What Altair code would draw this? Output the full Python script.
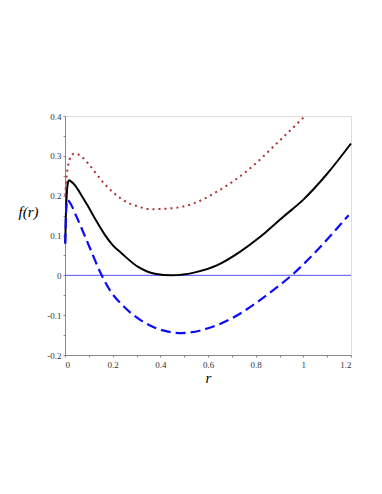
import altair as alt
import pandas as pd

# black solid curve
r_black = [0.001, 0.004, 0.008, 0.012, 0.017, 0.025, 0.042, 0.07, 0.098, 0.13, 0.168, 0.2, 0.238, 0.307, 0.377, 0.448, 0.55, 0.637, 0.734, 0.818, 0.916, 1.0, 1.1, 1.2]
f_black = [0.08, 0.16, 0.21, 0.232, 0.239, 0.236, 0.226, 0.2, 0.172, 0.138, 0.101, 0.076, 0.055, 0.021, 0.004, 0.0, 0.008, 0.025, 0.059, 0.096, 0.147, 0.19, 0.255, 0.331]

# blue dashed curve
r_blue = [0.001, 0.004, 0.007, 0.01, 0.02, 0.05, 0.1, 0.154, 0.189, 0.25, 0.357, 0.49, 0.6, 0.7, 0.8, 0.9, 0.951, 1.05, 1.19]
f_blue = [0.08, 0.15, 0.18, 0.19, 0.183, 0.145, 0.075, 0.0, -0.038, -0.08, -0.126, -0.145, -0.133, -0.108, -0.07, -0.025, 0.0, 0.058, 0.151]

# red dotted curve
r_red = [0.001, 0.006, 0.012, 0.02, 0.03, 0.042, 0.07, 0.098, 0.168, 0.238, 0.3, 0.364, 0.44, 0.538, 0.637, 0.776, 0.888, 1.007]
f_red = [0.2, 0.245, 0.272, 0.292, 0.303, 0.306, 0.298, 0.28, 0.228, 0.191, 0.174, 0.166, 0.168, 0.18, 0.21, 0.268, 0.331, 0.4]

x_ticks = [0, 0.1, 0.2, 0.3, 0.4, 0.5, 0.6, 0.7, 0.8, 0.9, 1.0, 1.1, 1.2]
y_ticks = [-0.2, -0.15, -0.1, -0.05, 0, 0.05, 0.1, 0.15, 0.2, 0.25, 0.3, 0.35, 0.4]

df_black = pd.DataFrame({"r": r_black, "f": f_black})
df_blue = pd.DataFrame({"r": r_blue, "f": f_blue})
df_red = pd.DataFrame({"r": r_red, "f": f_red})

lab_font = "Liberation Serif"

xscale = alt.Scale(domain=[0, 1.2], nice=False, zero=False)
yscale = alt.Scale(domain=[-0.2, 0.4], nice=False, zero=False)

xaxis = alt.Axis(
    values=x_ticks,
    labelExpr="(round(datum.value*10) % 2 == 0) ? toString(round(datum.value*10)/10) : ''",
    labelOverlap=False,
    title="r",
    titleFont=lab_font, titleFontStyle="italic", titleFontWeight="normal", titleFontSize=15,
    titleColor="#000", titleY=22, titleBaseline="middle",
    labelFont=lab_font, labelFontSize=9, labelColor="#333", labelPadding=3,
    tickSize=2, tickColor="#888", domainColor="#888", grid=False,
)
yaxis = alt.Axis(
    values=y_ticks,
    labelExpr="(round(datum.value*20) % 2 == 0) ? toString(round(datum.value*10)/10) : ''",
    labelOverlap=False,
    title="f(r)",
    titleFont=lab_font, titleFontStyle="italic", titleFontWeight="normal", titleFontSize=15,
    titleColor="#000", titleAngle=0, titleX=-37, titleY=95, titleAlign="center", titleBaseline="middle",
    labelFont=lab_font, labelFontSize=9, labelColor="#333", labelPadding=2,
    tickSize=2, tickColor="#888", domainColor="#888", grid=False,
)

zero = alt.Chart(pd.DataFrame({"y": [0]})).mark_rule(color="#5050ff", strokeWidth=1).encode(
    y=alt.Y("y:Q", scale=yscale, axis=yaxis)
)

black = alt.Chart(df_black).mark_line(color="#000000", strokeWidth=2, interpolate="monotone").encode(
    x=alt.X("r:Q", scale=xscale, axis=xaxis), y=alt.Y("f:Q", scale=yscale, axis=yaxis)
)
blue = alt.Chart(df_blue).mark_line(color="#0a0aff", strokeWidth=2.2, strokeDash=[10, 5], interpolate="monotone").encode(
    x=alt.X("r:Q", scale=xscale, axis=xaxis), y=alt.Y("f:Q", scale=yscale, axis=yaxis)
)
red = alt.Chart(df_red).mark_line(color="#b03030", strokeWidth=2, strokeDash=[2, 4], interpolate="monotone").encode(
    x=alt.X("r:Q", scale=xscale, axis=xaxis), y=alt.Y("f:Q", scale=yscale, axis=yaxis)
)

chart = alt.layer(zero, black, blue, red).properties(
    width=286, height=239,
    autosize=alt.AutoSizeParams(type="none"),
    padding={"left": 57, "top": 108, "right": 20, "bottom": 120},
).configure_view(stroke="#888", strokeWidth=1).configure(background="white")

chart.save("out.html", embed_options={"renderer": "svg", "actions": False})
